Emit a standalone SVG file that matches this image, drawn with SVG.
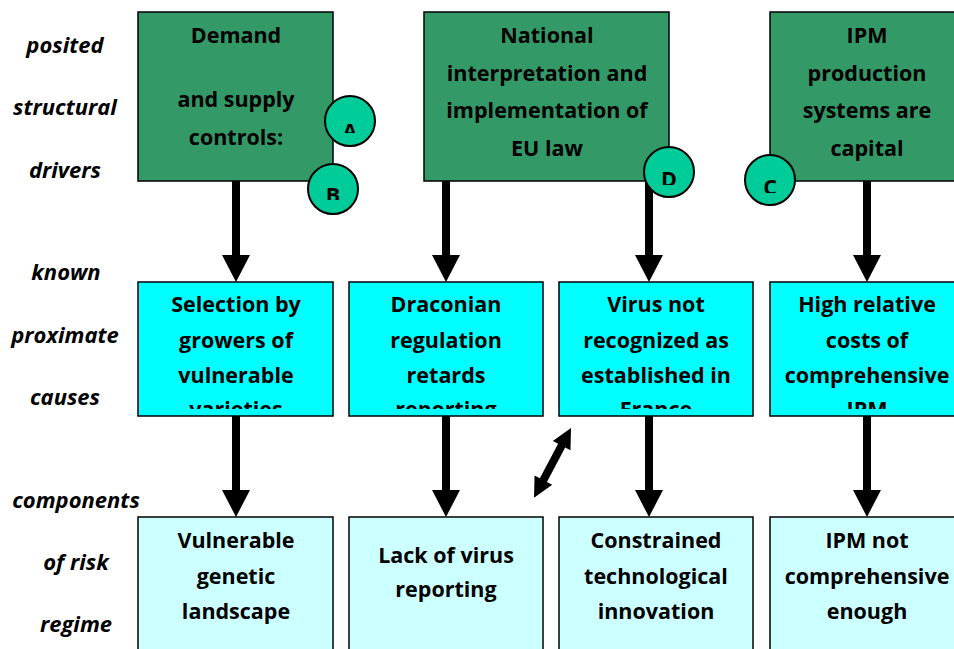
<svg xmlns="http://www.w3.org/2000/svg" width="954" height="649" viewBox="0 0 954 649">
<style>
.t{font-family:"Open Sans","Liberation Sans",sans-serif;font-weight:bold;font-size:21.5px;text-anchor:middle;fill:#000}
.lab{font-family:"Open Sans","Liberation Sans",sans-serif;font-weight:bold;font-style:italic;font-size:22px;text-anchor:middle;fill:#000}
.drv{fill:#339966;stroke:#000;stroke-width:1.5}
.cau{fill:#00FFFF;stroke:#000;stroke-width:1.5}
.cmp{fill:#CCFFFF;stroke:#000;stroke-width:1.5}
.circ{fill:#00CC99;stroke:#000;stroke-width:2}
.arr{fill:#000}
</style>
<defs>
<clipPath id="cm1"><rect x="138" y="282" width="195" height="127"/></clipPath>
<clipPath id="cm2"><rect x="349" y="282" width="194" height="127"/></clipPath>
<clipPath id="cm3"><rect x="559" y="282" width="194" height="127"/></clipPath>
<clipPath id="cm4"><rect x="770" y="282" width="194" height="127"/></clipPath>
<clipPath id="ccA"><rect x="320" y="90" width="60" height="43"/></clipPath>
<clipPath id="ccB"><rect x="303" y="160" width="60" height="40"/></clipPath>
<clipPath id="ccD"><rect x="639" y="140" width="60" height="45"/></clipPath>
<clipPath id="ccC"><rect x="740" y="150" width="60" height="43"/></clipPath>
</defs>
<rect width="954" height="649" fill="#fff"/>

<g id="row-labels">
<text class="lab" x="65" y="53">posited</text>
<text class="lab" x="65" y="115">structural</text>
<text class="lab" x="65" y="178">drivers</text>
<text class="lab" x="66" y="280">known</text>
<text class="lab" x="65" y="343">proximate</text>
<text class="lab" x="65" y="405">causes</text>
<text class="lab" x="76" y="508">components</text>
<text class="lab" x="76" y="570">of risk</text>
<text class="lab" x="76" y="632">regime</text>
</g>

<g id="connectors">
<polygon class="arr" points="232,181 240,181 240,255 250,255 236,282 222,255 232,255"/>
<polygon class="arr" points="442,181 450,181 450,255 460,255 446,282 432,255 442,255"/>
<polygon class="arr" points="645,181 653,181 653,255 663,255 649,282 635,255 645,255"/>
<polygon class="arr" points="863,181 871,181 871,255 881,255 867,282 853,255 863,255"/>
<polygon class="arr" points="232,416 240,416 240,490 250,490 236,517 222,490 232,490"/>
<polygon class="arr" points="442,416 450,416 450,490 460,490 446,517 432,490 442,490"/>
<polygon class="arr" points="645,416 653,416 653,490 663,490 649,517 635,490 645,490"/>
<polygon class="arr" points="863,416 871,416 871,490 881,490 867,517 853,490 863,490"/>
<polygon class="arr" transform="translate(571,428) rotate(117.9)" points="0,0 20,-10 20,-4 59,-4 59,-10 79,0 59,10 59,4 20,4 20,10"/>
</g>

<g id="driver-demand">
<rect class="drv" x="138" y="12" width="195" height="169"/>
<text class="t" x="236" y="43">Demand</text>
<text class="t" x="236" y="107">and supply</text>
<text class="t" x="236" y="145">controls:</text>
</g>
<g id="driver-eulaw">
<rect class="drv" x="424" y="12" width="245" height="169"/>
<text class="t" x="547" y="43">National</text>
<text class="t" x="547" y="81">interpretation and</text>
<text class="t" x="547" y="118">implementation of</text>
<text class="t" x="547" y="156">EU law</text>
</g>
<g id="driver-ipm">
<rect class="drv" x="770" y="12" width="194" height="169"/>
<text class="t" x="867" y="43">IPM</text>
<text class="t" x="867" y="81">production</text>
<text class="t" x="867" y="118">systems are</text>
<text class="t" x="867" y="156">capital</text>
</g>

<g id="cause-selection">
<rect class="cau" x="138" y="282" width="195" height="134"/>
<g clip-path="url(#cm1)">
<text class="t" x="236" y="312">Selection by</text>
<text class="t" x="236" y="348">growers of</text>
<text class="t" x="236" y="383">vulnerable</text>
<text class="t" x="236" y="417">varieties</text>
</g>
</g>
<g id="cause-draconian">
<rect class="cau" x="349" y="282" width="194" height="134"/>
<g clip-path="url(#cm2)">
<text class="t" x="446" y="312">Draconian</text>
<text class="t" x="446" y="348">regulation</text>
<text class="t" x="446" y="383">retards</text>
<text class="t" x="446" y="417">reporting</text>
</g>
</g>
<g id="cause-virus">
<rect class="cau" x="559" y="282" width="194" height="134"/>
<g clip-path="url(#cm3)">
<text class="t" x="656" y="312">Virus not</text>
<text class="t" x="656" y="348">recognized as</text>
<text class="t" x="656" y="383">established in</text>
<text class="t" x="656" y="417">France</text>
</g>
</g>
<g id="cause-costs">
<rect class="cau" x="770" y="282" width="194" height="134"/>
<g clip-path="url(#cm4)">
<text class="t" x="867" y="312">High relative</text>
<text class="t" x="867" y="348">costs of</text>
<text class="t" x="867" y="383">comprehensive</text>
<text class="t" x="867" y="417">IPM</text>
</g>
</g>

<g id="comp-genetic">
<rect class="cmp" x="138" y="517" width="195" height="140"/>
<text class="t" x="236" y="548">Vulnerable</text>
<text class="t" x="236" y="584">genetic</text>
<text class="t" x="236" y="619">landscape</text>
</g>
<g id="comp-reporting">
<rect class="cmp" x="349" y="517" width="194" height="140"/>
<text class="t" x="446" y="563">Lack of virus</text>
<text class="t" x="446" y="597">reporting</text>
</g>
<g id="comp-innovation">
<rect class="cmp" x="559" y="517" width="194" height="140"/>
<text class="t" x="656" y="548">Constrained</text>
<text class="t" x="656" y="584">technological</text>
<text class="t" x="656" y="619">innovation</text>
</g>
<g id="comp-ipm">
<rect class="cmp" x="770" y="517" width="194" height="140"/>
<text class="t" x="867" y="548">IPM not</text>
<text class="t" x="867" y="584">comprehensive</text>
<text class="t" x="867" y="619">enough</text>
</g>

<g id="circle-A">
<circle class="circ" cx="350" cy="121" r="25"/>
<text class="t" x="350" y="139" clip-path="url(#ccA)">A</text>
</g>
<g id="circle-B">
<circle class="circ" cx="333" cy="189" r="25"/>
<text class="t" x="333" y="203" clip-path="url(#ccB)">B</text>
</g>
<g id="circle-D">
<circle class="circ" cx="669" cy="172" r="25"/>
<text class="t" x="669" y="187" clip-path="url(#ccD)">D</text>
</g>
<g id="circle-C">
<circle class="circ" cx="770" cy="180" r="25"/>
<text class="t" x="770" y="195" clip-path="url(#ccC)">C</text>
</g>
</svg>
